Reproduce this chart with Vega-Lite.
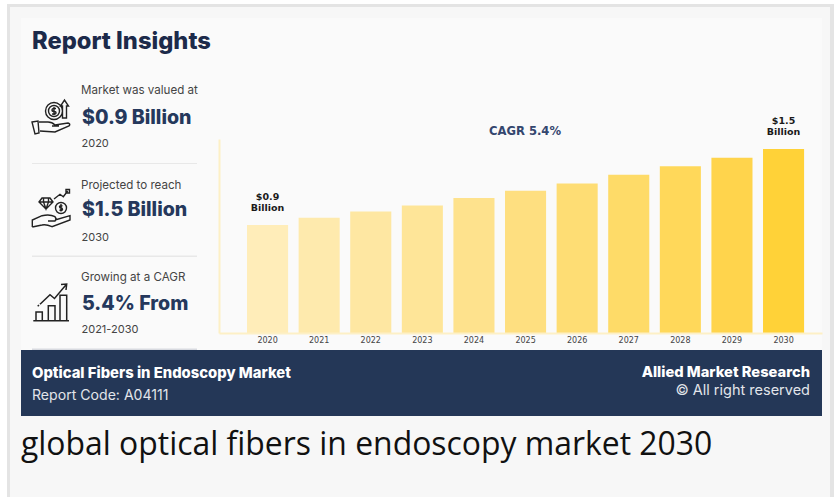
{
"$schema":"https://vega.github.io/schema/vega-lite/v6.json",
"width":603,"height":194,
"autosize":"none",
"padding":{"left":219,"right":14,"top":139,"bottom":164},
"background":"#ffffff",
"config":{"view":{"stroke":null},"text":{"font":"Inter"}},
"data":{"values":[
{"year":"2020","value":0.88,"label":"$0.9\nBillion"},
{"year":"2021","value":0.94},
{"year":"2022","value":0.99},
{"year":"2023","value":1.04},
{"year":"2024","value":1.10},
{"year":"2025","value":1.16},
{"year":"2026","value":1.22},
{"year":"2027","value":1.29},
{"year":"2028","value":1.36},
{"year":"2029","value":1.43},
{"year":"2030","value":1.50,"label":"$1.5\nBillion"}
]},
"layer":[
{"data":{"values":[{}]},"mark":{"type":"rect","fill":"#e4e4e4","x":-212,"x2":615,"y":-135,"y2":358},"encoding":{}},
{"data":{"values":[{}]},"mark":{"type":"rect","fill":"#f7f7f7","x":-209,"x2":611,"y":-132,"y2":358},"encoding":{}},
{"data":{"values":[{}]},"mark":{"type":"rect","fill":"#fafafa","x":-198,"x2":603,"y":-121,"y2":211},"encoding":{}},
{"data":{"values":[{}]},"mark":{"type":"rect","fill":"#243757","x":-198,"x2":603,"y":211,"y2":277},"encoding":{}},
{"data":{"values":[{}]},"mark":{"type":"rect","fill":"#e8e8e8","x":-187,"x2":-22,"y":24,"y2":25},"encoding":{}},
{"data":{"values":[{}]},"mark":{"type":"rect","fill":"#e8e8e8","x":-187,"x2":-22,"y":116.5,"y2":118},"encoding":{}},
{"data":{"values":[{}]},"mark":{"type":"rect","fill":"#d8dae0","x":-187,"x2":-22,"y":209.5,"y2":211},"encoding":{}},
{"mark":{"type":"bar"},
 "encoding":{
  "x":{"field":"year","type":"ordinal","title":null,
   "scale":{"paddingInner":0.204,"paddingOuter":0.445,"align":0.61},
   "axis":{"zindex":1,"labelAngle":0,"ticks":false,"grid":false,"domainColor":"#fdf0c6","domainWidth":2,"labelFont":"DejaVu Sans","labelFontSize":8,"labelColor":"#444444","labelPadding":3}},
  "y":{"field":"value","type":"quantitative","title":null,
   "scale":{"domain":[0,1.582],"nice":false},
   "axis":{"zindex":1,"ticks":false,"labels":false,"grid":false,"domainColor":"#fdf0c6","domainWidth":2}},
  "color":{"field":"year","type":"nominal","legend":null,
   "scale":{"range":["#ffedb9","#feeaad","#fee7a2","#fee598","#fee28d","#fedf80","#fedd74","#fedb68","#ffd85a","#ffd44c","#ffd238"]}}
 }},
{"transform":[{"filter":"datum.label != null"}],
 "mark":{"type":"text","font":"DejaVu Sans","fontWeight":"bold","fontSize":9.5,"lineHeight":10.7,"lineBreak":"\n","baseline":"bottom","align":"center","dy":-23,"color":"#1a1a1a"},
 "encoding":{"x":{"field":"year","type":"ordinal"},"y":{"field":"value","type":"quantitative"},"text":{"field":"label"}}},
{"data":{"values":[{"t":"CAGR 5.4%"}]},"mark":{"type":"text","font":"DejaVu Sans","fontWeight":"bold","fontSize":11.6,"color":"#34466e","align":"center","baseline":"alphabetic","x":306,"y":-4},"encoding":{"text":{"field":"t"}}},
{"data":{"values":[{"t":"Report Insights"}]},"mark":{"type":"text","fontWeight":800,"fontSize":23.7,"color":"#1c2a4a","align":"left","baseline":"alphabetic","x":-187,"y":-90},"encoding":{"text":{"field":"t"}}},
{"data":{"values":[{"t":"Market was valued at"}]},"mark":{"type":"text","fontSize":11.6,"color":"#444444","align":"left","baseline":"alphabetic","x":-138,"y":-45},"encoding":{"text":{"field":"t"}}},
{"data":{"values":[{"t":"$0.9 Billion"}]},"mark":{"type":"text","fontWeight":800,"fontSize":19.6,"color":"#25385c","align":"left","baseline":"alphabetic","x":-137,"y":-15},"encoding":{"text":{"field":"t"}}},
{"data":{"values":[{"t":"2020"}]},"mark":{"type":"text","fontSize":11,"color":"#444444","align":"left","baseline":"alphabetic","x":-137.5,"y":8},"encoding":{"text":{"field":"t"}}},
{"data":{"values":[{"t":"Projected to reach"}]},"mark":{"type":"text","fontSize":11.6,"color":"#444444","align":"left","baseline":"alphabetic","x":-138,"y":50},"encoding":{"text":{"field":"t"}}},
{"data":{"values":[{"t":"$1.5 Billion"}]},"mark":{"type":"text","fontWeight":800,"fontSize":19.6,"color":"#25385c","align":"left","baseline":"alphabetic","x":-137,"y":77},"encoding":{"text":{"field":"t"}}},
{"data":{"values":[{"t":"2030"}]},"mark":{"type":"text","fontSize":11,"color":"#444444","align":"left","baseline":"alphabetic","x":-137.5,"y":102},"encoding":{"text":{"field":"t"}}},
{"data":{"values":[{"t":"Growing at a CAGR"}]},"mark":{"type":"text","fontSize":11.6,"color":"#444444","align":"left","baseline":"alphabetic","x":-138,"y":142},"encoding":{"text":{"field":"t"}}},
{"data":{"values":[{"t":"5.4% From"}]},"mark":{"type":"text","fontWeight":800,"fontSize":19.6,"color":"#25385c","align":"left","baseline":"alphabetic","x":-137,"y":171},"encoding":{"text":{"field":"t"}}},
{"data":{"values":[{"t":"2021-2030"}]},"mark":{"type":"text","fontSize":11,"color":"#444444","align":"left","baseline":"alphabetic","x":-137.5,"y":194},"encoding":{"text":{"field":"t"}}},
{"data":{"values":[{"t":"Optical Fibers in Endoscopy Market"}]},"mark":{"type":"text","fontWeight":800,"fontSize":14.8,"color":"#ffffff","align":"left","baseline":"alphabetic","x":-187,"y":239},"encoding":{"text":{"field":"t"}}},
{"data":{"values":[{"t":"Report Code: A04111"}]},"mark":{"type":"text","fontSize":14.1,"color":"#e2e5ea","align":"left","baseline":"alphabetic","x":-187,"y":261},"encoding":{"text":{"field":"t"}}},
{"data":{"values":[{"t":"Allied Market Research"}]},"mark":{"type":"text","fontWeight":800,"fontSize":14.7,"color":"#ffffff","align":"right","baseline":"alphabetic","x":591,"y":238},"encoding":{"text":{"field":"t"}}},
{"data":{"values":[{"t":"© All right reserved"}]},"mark":{"type":"text","fontSize":14.5,"color":"#e2e5ea","align":"right","baseline":"alphabetic","x":591,"y":256},"encoding":{"text":{"field":"t"}}},
{"data":{"values":[{"t":"global optical fibers in endoscopy market 2030"}]},"mark":{"type":"text","font":"Open Sans","fontSize":31.9,"color":"#111111","align":"left","baseline":"alphabetic","x":-198,"y":316},"encoding":{"text":{"field":"t"}}},
{"data":{"values":[{}]},"mark":{"type":"point","filled":false,"size":4,"stroke":"#222222","strokeWidth":1.4,"opacity":1,"x":-164,"y":-22,
 "shape":"M-23,5 L-17,4 L-16,16 L-20,17 Z M-16,5 L-7,5 Q-3,5 0,8 L13,6 Q16,7 14,9 L0,15 L-15,14 M-3,9 L4,9 M-9.5,-6 a8.5,8.5 0 1,0 17,0 a8.5,8.5 0 1,0 -17,0 M-6.5,-6 a5.5,5.5 0 1,0 11,0 a5.5,5.5 0 1,0 -11,0 M1,-8.5 Q-3,-9 -3,-7 Q-3,-5.5 -1,-5.5 Q1,-5.5 1,-4 Q1,-2.5 -3,-3 M-1,-10 L-1,-2 M7.5,1 L7.5,-11 L5.5,-11 L9.5,-17 L13.5,-11 L11.5,-11 L11.5,1 Z"},"encoding":{}},
{"data":{"values":[{}]},"mark":{"type":"point","filled":false,"size":4,"stroke":"#222222","strokeWidth":1.4,"opacity":1,"x":-164,"y":73,
 "shape":"M-22.7,15 L-22.7,8 L-13,3.7 Q-5,2 0,4.7 Q2,7 0,9 L-7,9 M0,8 L15,3.7 L15,8 L-3,14.7 Q-9,12 -13,13 L-22.7,15 M-16,-10 L-13,-14 L-5,-14 L-2,-10 L-9,-3 Z M-16,-10 L-2,-10 M-11.5,-14 L-11.5,-10 L-9,-3 L-6.5,-10 L-6.5,-14 M0.5,-4 a5.5,5.5 0 1,0 11,0 a5.5,5.5 0 1,0 -11,0 M7.5,-6 Q5,-7 4.5,-5.5 Q4.5,-4 6,-4 Q7.5,-4 7.5,-2.5 Q7,-1 4.5,-2 M6,-8 L6,-0.5 M-1,-13 L5,-17.7 L8.3,-15.3 L12.7,-21 M11,-22.5 L14.5,-22.5 L14.5,-19 L11,-19 Z"},"encoding":{}},
{"data":{"values":[{}]},"mark":{"type":"point","filled":false,"size":4,"stroke":"#222222","strokeWidth":1.5,"opacity":1,"x":-164,"y":166,
 "shape":"M-21.7,15.7 L14,15.7 M-19,15.7 L-19,7 L-12.7,7 L-12.7,15.7 M-6.7,15.7 L-6.7,0.7 L0,0.7 L0,15.7 M5,15.7 L5,-9.7 L11.7,-9.7 L11.7,15.7 M-15,-0.8 L-5,-10.3 L-0.5,-6.5 L11.7,-21 M6,-20.5 L11.7,-21 L11,-15 M-17.3,1.3 L-16,0"},"encoding":{}}
]
}
